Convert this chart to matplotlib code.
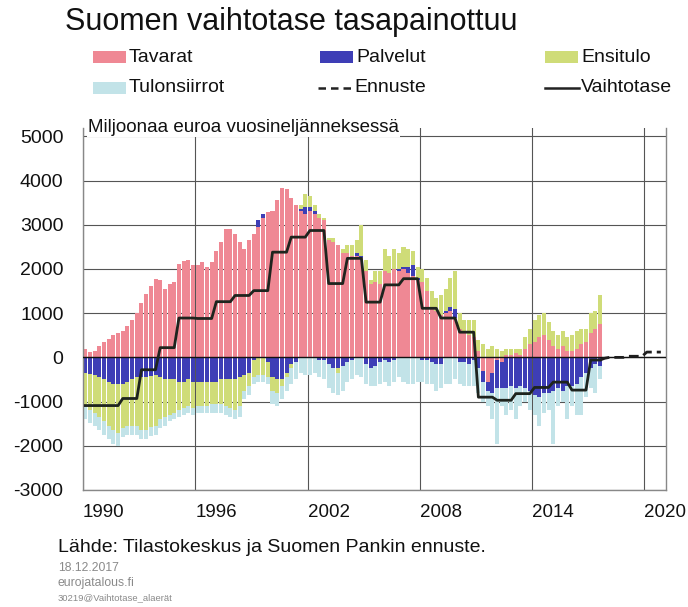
import numpy as np
import matplotlib
matplotlib.use("Agg")
import matplotlib.pyplot as plt
from matplotlib.patches import Rectangle
from matplotlib.lines import Line2D

plt.rcParams.update({
    "font.family": ["Liberation Sans", "DejaVu Sans"],
    "axes.unicode_minus": False,
    "figure.facecolor": "white",
    "axes.facecolor": "white",
})

# quarterly data 1990Q1 ... 2017Q3, milj. euroa / vuosineljännes
FIRST_YEAR = 1990
tavarat = [
    200, 120, 150, 250,     # 1990
    350, 420, 500, 550,     # 1991
    600, 700, 850, 1000,    # 1992
    1220, 1440, 1620, 1780,  # 1993
    1750, 1550, 1650, 1700,  # 1994
    2120, 2190, 2200, 2100,  # 1995
    2100, 2150, 2050, 2150,  # 1996
    2400, 2600, 2900, 2900,  # 1997
    2800, 2600, 2450, 2650,  # 1998
    2800, 2950, 3150, 3290,  # 1999
    3300, 3560, 3830, 3800,  # 2000
    3600, 3450, 3300, 3250,  # 2001
    3300, 3250, 3150, 3100,  # 2002
    2650, 2600, 2550, 2350,  # 2003
    2350, 2300, 2300, 2250,  # 2004
    1950, 1650, 1700, 1650,  # 2005
    1950, 1900, 2000, 1950,  # 2006
    2000, 1900, 1850, 1750,  # 2007
    1700, 1500, 1150, 1050,  # 2008
    950, 1000, 1050, 900,    # 2009
    650, 550, 500, 450,      # 2010
    150, -300, -550, -350,   # 2011
    -50, -100, 50, 50,       # 2012
    100, 50, 200, 300,       # 2013
    350, 450, 500, 400,      # 2014
    250, 200, 250, 150,      # 2015
    150, 200, 300, 350,      # 2016
    550, 650, 750,           # 2017
]
palvelut = [
    -350, -380, -400, -450,
    -500, -550, -600, -600,
    -600, -550, -500, -450,
    -450, -450, -420, -400,
    -450, -500, -500, -500,
    -550, -550, -500, -550,
    -550, -550, -550, -550,
    -550, -500, -500, -500,
    -500, -450, -400, -350,
    -50, 150, 100, -100,
    -450, -500, -500, -350,
    -150, -100, 50, 150,
    100, 50, -50, -50,
    -150, -250, -250, -200,
    -100, -50, 50, 50,
    -150, -250, -200, -100,
    -50, -100, -50, 50,
    50, 150, 250, 50,
    -50, -50, -100, -150,
    -150, 50, 100, 200,
    -100, -100, -150, -50,
    -250, -250, -200, -450,
    -650, -600, -700, -650,
    -700, -650, -700, -750,
    -850, -900, -800, -800,
    -750, -700, -750, -650,
    -650, -600, -450, -350,
    -250, -150, -200,
]
ensitulo = [
    -750, -800, -850, -900,
    -950, -1000, -1050, -1100,
    -1000, -1000, -1050, -1100,
    -1200, -1200, -1150, -1150,
    -950, -850, -800, -750,
    -650, -600, -600, -600,
    -550, -550, -550, -500,
    -500, -550, -600, -650,
    -700, -650, -350, -300,
    -400, -400, -400, -350,
    -300, -300, -150, -100,
    -100, 0, 100, 300,
    250, 150, 100, 50,
    50, 100, -100, 100,
    200, 250, 300, 700,
    250, 100, 250, 300,
    500, 400, 450, 350,
    450, 400, 300, 250,
    300, 300, 350, 300,
    450, 500, 650, 850,
    350, 300, 350, 400,
    250, 300, 200, 250,
    200, 150, 150, 150,
    100, 150, 250, 350,
    500, 500, 500, 400,
    350, 300, 350, 300,
    350, 400, 350, 300,
    450, 400, 650,
]
tulonsiirrot = [
    -300, -300, -300, -300,
    -300, -300, -300, -300,
    -200, -200, -200, -200,
    -200, -200, -200, -200,
    -200, -200, -150, -150,
    -150, -150, -150, -150,
    -150, -150, -150, -200,
    -200, -200, -200, -200,
    -200, -250, -200, -200,
    -150, -150, -150, -150,
    -300, -300, -300, -300,
    -350, -400, -350, -400,
    -400, -350, -400, -450,
    -550, -550, -500, -550,
    -450, -450, -400, -450,
    -450, -400, -450, -500,
    -500, -550, -500, -450,
    -550, -600, -600, -550,
    -500, -550, -500, -600,
    -550, -600, -600, -500,
    -500, -550, -500, -600,
    -550, -450, -350, -600,
    -1250, -400, -600, -550,
    -700, -450, -300, -450,
    -450, -650, -450, -400,
    -1200, -400, -250, -750,
    -450, -700, -850, -550,
    -450, -650, -300,
]

# annual current account, per quarter
vaihtotase = [-1090, -1090, -930, -280, 220, 890, 880, 1260, 1400, 1510,
              2380, 2720, 2870, 1670, 2240, 1250, 1640, 1780, 1110, 890,
              570, -900, -970, -820, -680, -560, -740, -60]
ennuste_2017q4 = -20
ennuste = [0, 25, 120]          # 2018, 2019, 2020

year_ticks = [1990, 1996, 2002, 2008, 2014, 2020]
y_ticks = list(range(-3000, 5001, 1000))

labels = ["Tavarat", "Palvelut", "Ensitulo", "Tulonsiirrot"]
COLORS = ["#EF8894", "#3E3EB6", "#CFDC78", "#C2E3E8"]

W, H = 688, 607
fig = plt.figure(figsize=(W / 100, H / 100), dpi=100)
ax = fig.add_axes([83 / W, 1 - 490 / H, (666 - 83) / W, (490 - 127.5) / H])

n = len(tavarat)
xq = FIRST_YEAR + (np.arange(n) + 0.5) / 4
pos_base = np.zeros(n)
neg_base = np.zeros(n)
for vals, color in zip([tavarat, palvelut, ensitulo, tulonsiirrot], COLORS):
    v = np.array(vals, dtype=float)
    pos = np.where(v > 0, v, 0)
    neg = np.where(v < 0, v, 0)
    ax.bar(xq, pos, bottom=pos_base, width=0.215, color=color, edgecolor="none", zorder=2)
    ax.bar(xq, neg, bottom=neg_base, width=0.215, color=color, edgecolor="none", zorder=2)
    pos_base += pos
    neg_base += neg

vt_q = np.repeat(vaihtotase, 4)[:n]
ax.plot(xq, vt_q, color="#1e241e", lw=2.0, zorder=4, solid_joinstyle="round")

last_year = FIRST_YEAR + len(vaihtotase) - 1
ex = [xq[-1], last_year + 0.875]
ey = [vt_q[-1], ennuste_2017q4]
for i, val in enumerate(ennuste):
    yr = last_year + 1 + i
    ex += [yr + 0.125, yr + 0.875]
    ey += [val, val]
ax.plot(ex, ey, color="#1e1e1e", lw=2.0, ls=(0, (3.5, 1.8)), zorder=4)

ax.axhline(0, color="#111111", lw=1.0, zorder=3)

ax.set_xlim(FIRST_YEAR, 2021.15)
ax.set_ylim(-3000, 5200)
ax.set_yticks(y_ticks)
ax.set_xticks(year_ticks)
ax.set_xticklabels([str(y) for y in year_ticks], ha="left")
ax.tick_params(axis="both", length=0, labelsize=14, colors="#111111")
ax.tick_params(axis="y", pad=14)
ax.tick_params(axis="x", pad=10, labelsize=13.5)
ax.grid(True, color="#555555", lw=0.8)
ax.set_axisbelow(True)
for side in ["left", "right", "bottom"]:
    ax.spines[side].set_color("#888888")
    ax.spines[side].set_linewidth(1.0)
ax.spines["top"].set_visible(False)

ax.text(88 / W, 1 - 127 / H, "Miljoonaa euroa vuosineljänneksessä", transform=fig.transFigure,
        fontsize=13.5, va="center", ha="left", color="#111111",
        bbox=dict(facecolor="white", edgecolor="none", pad=1))

fig.text(65 / W, 1 - 22 / H, "Suomen vaihtotase tasapainottuu", fontsize=22,
         va="center", ha="left", color="#111111")

# legend
entries = [("Tavarat", 93, 57, COLORS[0], None),
           ("Palvelut", 320, 57, COLORS[1], None),
           ("Ensitulo", 545, 57, COLORS[2], None),
           ("Tulonsiirrot", 93, 88, COLORS[3], None),
           ("Ennuste", 318, 88, None, (0, (3, 2))),
           ("Vaihtotase", 545, 88, None, "-")]
for text, x, y, color, ls in entries:
    if color is not None:
        fig.patches.append(Rectangle((x / W, 1 - (y + 5.5) / H), 33 / W, 11 / H,
                                     transform=fig.transFigure, facecolor=color,
                                     edgecolor="none"))
    else:
        fig.add_artist(Line2D([x / W, (x + 34) / W], [1 - y / H, 1 - y / H],
                              transform=fig.transFigure, color="#222222", lw=1.8, ls=ls))
    fig.text((x + 36) / W, 1 - y / H, text, fontsize=14, va="center", ha="left",
             color="#111111")

fig.text(58 / W, 1 - 548 / H, "Lähde: Tilastokeskus ja Suomen Pankin ennuste.",
         fontsize=14, va="center", ha="left", color="#111111")
fig.text(58 / W, 1 - 568 / H, "18.12.2017", fontsize=8.8, va="center", ha="left", color="#8a8a8a")
fig.text(58 / W, 1 - 583 / H, "eurojatalous.fi", fontsize=8.8, va="center", ha="left", color="#8a8a8a")
fig.text(58 / W, 1 - 598 / H, "30219@Vaihtotase_alaerät", fontsize=6.8, va="center", ha="left",
         color="#8a8a8a")

fig.savefig("out.png", dpi=100, facecolor="white")
